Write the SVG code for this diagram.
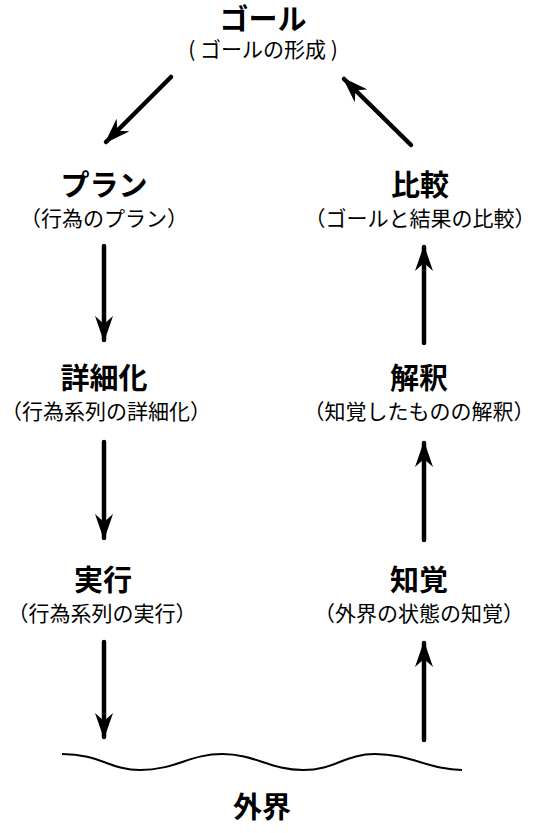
<svg xmlns="http://www.w3.org/2000/svg" width="539" height="833" viewBox="0 0 539 833">
<defs>
<marker id="ah" viewBox="0 0 26 18" refX="24" refY="9" markerWidth="26" markerHeight="18" markerUnits="userSpaceOnUse" orient="auto">
<path d="M0,0 L26,9 L0,18 L8,9 Z" fill="#000"/>
</marker>
</defs>
<style>
text{font-family:"Noto Sans CJK JP","Noto Sans",sans-serif;fill:#000;text-anchor:middle}
.t{font-size:29px;font-weight:bold}
.s{font-size:21px}
.a{stroke:#000;stroke-width:4.5;fill:none;stroke-linecap:round;marker-end:url(#ah)}
</style>
<rect width="539" height="833" fill="#fff"/>
<g id="goal"><text class="t" x="263" y="30">ゴール</text><text class="s" x="263" y="57">( ゴールの形成 )</text></g>
<g id="plan"><text class="t" x="104" y="196">プラン</text><text class="s" x="104" y="226">（行為のプラン）</text></g>
<g id="compare"><text class="t" x="420" y="196">比較</text><text class="s" x="420" y="226">（ゴールと結果の比較）</text></g>
<g id="detail"><text class="t" x="104" y="389">詳細化</text><text class="s" x="106" y="419" font-size="20.5">（行為系列の詳細化）</text></g>
<g id="interpret"><text class="t" x="419" y="389">解釈</text><text class="s" x="419" y="419">（知覚したものの解釈）</text></g>
<g id="execute"><text class="t" x="103" y="591">実行</text><text class="s" x="102" y="621">（行為系列の実行）</text></g>
<g id="perceive"><text class="t" x="419" y="591">知覚</text><text class="s" x="419" y="621">（外界の状態の知覚）</text></g>
<g id="world"><path d="M62,754 C100,754 110,770 140,770 C175,770 190,754 222,754 C255,754 270,770 303,770 C335,770 345,754 375,754 C410,754 430,770 462,770" fill="none" stroke="#000" stroke-width="2"/><text class="t" x="262" y="818">外界</text></g>
<g id="connectors">
<path class="a" d="M171,77 L106,142"/>
<path class="a" d="M411,145 L344,79"/>
<path class="a" d="M104,246 L104,340"/>
<path class="a" d="M104,442 L104,538"/>
<path class="a" d="M104,642 L104,737"/>
<path class="a" d="M424,343 L424,247"/>
<path class="a" d="M424,540 L424,443"/>
<path class="a" d="M424,740 L424,643"/>
</g>
</svg>
